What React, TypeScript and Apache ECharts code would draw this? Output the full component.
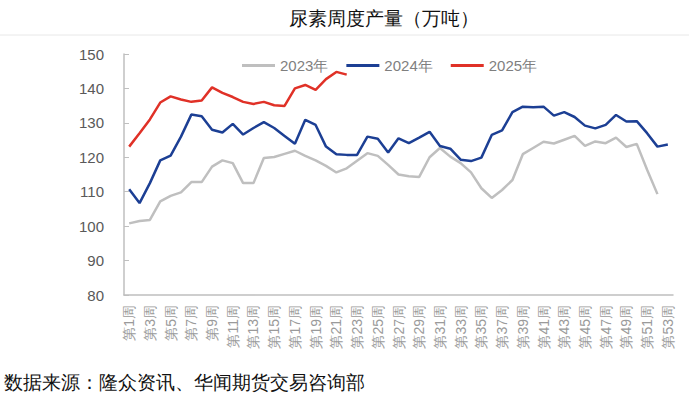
import React, { useEffect, useRef } from "react";
import * as echarts from "echarts";

const weeks: string[] = Array.from({ length: 53 }, (_, i) => `第${i + 1}周`);

const s2023: (number | null)[] = [
  100.8, 101.5, 101.8, 107.2, 108.8, 109.8, 112.8, 112.8, 117.3, 119.1,
  118.3, 112.5, 112.5, 119.8, 120.1, 121.0, 121.9, 120.4, 119.1, 117.5,
  115.6, 116.8, 119.0, 121.2, 120.4, 117.8, 115.0, 114.5, 114.3, 120.0,
  122.7, 120.2, 118.3, 115.6, 111.0, 108.2, 110.5, 113.4, 120.9, 122.7,
  124.5, 124.0, 125.1, 126.2, 123.3, 124.6, 124.1, 125.7, 123.0, 123.9,
  116.4, 109.3, null,
];

const s2024: number[] = [
  110.7, 106.7, 112.5, 119.1, 120.5, 126.0, 132.4, 131.9, 128.0, 127.2,
  129.7, 126.6, 128.5, 130.2, 128.5, 126.2, 123.9, 130.9, 129.4, 123.1,
  120.9, 120.7, 120.7, 126.0, 125.4, 121.4, 125.5, 124.1, 125.7, 127.4,
  123.3, 122.5, 119.3, 118.9, 119.9, 126.5, 127.8, 133.1, 134.7, 134.5,
  134.7, 132.1, 133.1, 131.7, 129.2, 128.4, 129.4, 132.3, 130.4, 130.5,
  127.0, 123.1, 123.7,
];

const s2025: number[] = [
  123.1, 127.0, 131.0, 135.9, 137.7, 136.8, 136.1, 136.5, 140.3, 138.7,
  137.5, 136.1, 135.5, 136.1, 135.1, 134.9, 140.0, 141.0, 139.6, 142.7,
  144.8, 144.0,
];

const seriesNames = ["2023年", "2024年", "2025年"];
const colors = ["#bfbfbf", "#1c3f94", "#e03127"];

export default function App() {
  const ref = useRef<HTMLDivElement>(null);
  useEffect(() => {
    if (!ref.current) return;
    const chart = echarts.init(ref.current, null, { renderer: "svg" });
    const data = [s2023, s2024, s2025];
    chart.setOption({
      animation: false,
      backgroundColor: "#ffffff",
      title: {
        text: "尿素周度产量（万吨）",
        left: 379,
        top: 4,
        textAlign: "center",
        textStyle: {
          fontFamily: "serif",
          fontSize: 19,
          fontWeight: "normal",
          color: "#111",
        },
      },
      graphic: [
        {
          type: "line",
          shape: { x1: 0, y1: 35, x2: 689, y2: 35 },
          style: { stroke: "#e8e8e8", lineWidth: 1 },
        },
        {
          type: "text",
          left: 4,
          top: 373,
          style: {
            text: "数据来源：隆众资讯、华闻期货交易咨询部",
            fontFamily: "serif",
            fontSize: 19,
            fill: "#111",
          },
        },
      ],
      legend: {
        top: 53,
        left: 237,
        itemWidth: 33,
        itemHeight: 3,
        itemGap: 18,
        icon: "rect",
        textStyle: { color: "#7f7f7f", fontSize: 15, fontFamily: "sans-serif" },
        data: seriesNames,
      },
      grid: { left: 124, right: 16, top: 54, bottom: 102 },
      xAxis: {
        type: "category",
        data: weeks,
        boundaryGap: true,
        axisLine: { lineStyle: { color: "#bfbfbf", width: 1.5 } },
        axisTick: { inside: true, length: 5, interval: 0, lineStyle: { color: "#bfbfbf" } },
        axisLabel: {
          rotate: 90,
          interval: 1,
          color: "#9a9a9a",
          fontSize: 14,
          margin: 10,
          fontFamily: "sans-serif",
        },
      },
      yAxis: {
        type: "value",
        min: 80,
        max: 150,
        interval: 10,
        splitLine: { show: false },
        axisLine: { show: true, lineStyle: { color: "#bfbfbf", width: 1.5 } },
        axisTick: { show: true, inside: true, length: 5, lineStyle: { color: "#bfbfbf" } },
        axisLabel: { color: "#595959", fontSize: 15, margin: 20, fontFamily: "sans-serif" },
      },
      series: seriesNames.map((name, i) => ({
        name,
        type: "line",
        data: data[i],
        symbol: "none",
        color: colors[i],
        lineStyle: { width: 2.5, color: colors[i] },
        connectNulls: false,
      })),
    });
    return () => chart.dispose();
  }, []);
  return (
    <div
      ref={ref}
      style={{ position: "fixed", left: 0, top: 0, width: 689, height: 397 }}
    />
  );
}
